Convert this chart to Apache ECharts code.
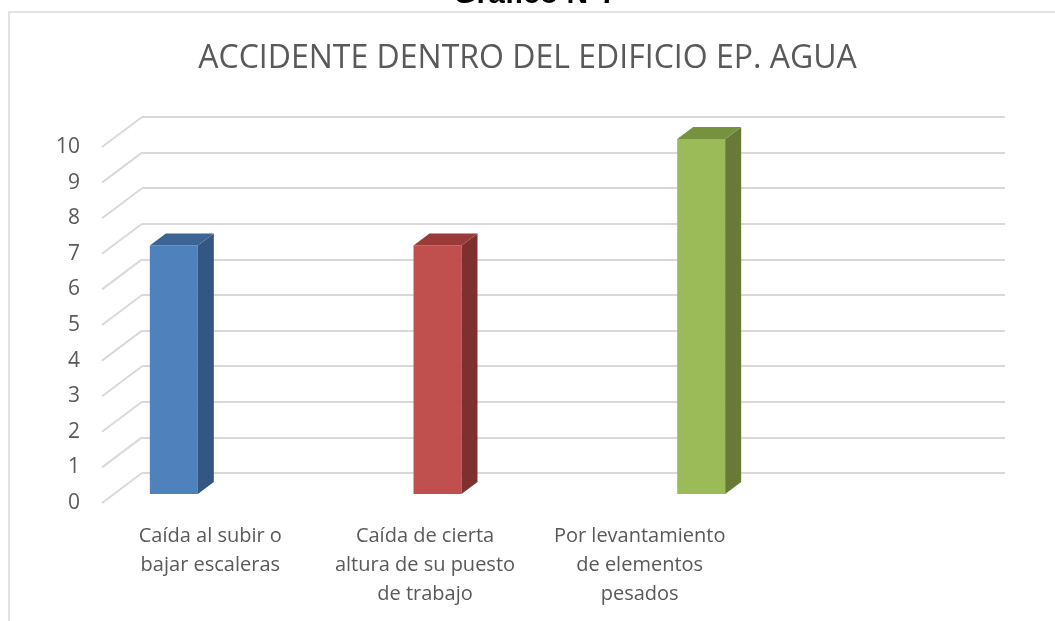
<!DOCTYPE html>
<html>
<head>
<meta charset="utf-8">
<title>Gráfico N°7</title>
<script src="https://cdn.jsdelivr.net/npm/echarts@6/dist/echarts.min.js"></script>
<style>
    html, body { margin: 0; padding: 0; background: #fff; }
    #main { width: 1055px; height: 621px; }
</style>
</head>
<body>
<div id="main"></div>
<script>
var categories = ['Caída al subir o\nbajar escaleras', 'Caída de cierta\naltura de su puesto\nde trabajo', 'Por levantamiento\nde elementos\npesados'];
var values = [7, 7, 10];
var yTicks = [0, 1, 2, 3, 4, 5, 6, 7, 8, 9, 10];

// front / side / top faces
var barColors = [
    ['#4f81bd', '#335782', '#3c6495'],
    ['#c0504d', '#7e302e', '#9a3b39'],
    ['#9bbb59', '#677a37', '#77923f']
];
var font = '"Open Sans", "Noto Sans", sans-serif';
var gridColor = '#d9d9d9';

var renderDiagonal = function (params, api) {
    var p = api.coord([0, api.value(1)]);
    return {
        type: 'line',
        shape: { x1: p[0], y1: p[1], x2: p[0] + 40, y2: p[1] - 30 },
        style: { stroke: gridColor, lineWidth: 2 }
    };
}

var renderBar = function (params, api) {
    var base = api.coord([api.value(0), 0]);
    var top = api.coord([api.value(0), api.value(1)]);
    var w = api.size([1, 0])[0] * 0.182;
    var x0 = base[0] - w / 2, x1 = base[0] + w / 2;
    var dx = 16, dy = -12;
    var c = barColors[params.dataIndex];
    return {
        type: 'group',
        children: [
            { type: 'rect', shape: { x: x0, y: top[1], width: w, height: base[1] - top[1] }, style: { fill: c[0] } },
            { type: 'polygon', shape: { points: [[x1, top[1]], [x1 + dx, top[1] + dy], [x1 + dx, base[1] + dy], [x1, base[1]]] }, style: { fill: c[1] } },
            { type: 'polygon', shape: { points: [[x0, top[1]], [x0 + dx, top[1] + dy], [x1 + dx, top[1] + dy], [x1, top[1]]] }, style: { fill: c[2] } }
        ]
    };
}

var chart = echarts.init(document.getElementById('main'));
chart.setOption({
    animation: false,
    title: {
        text: 'ACCIDENTE DENTRO DEL EDIFICIO EP. AGUA',
        left: 'center',
        top: 38,
        textStyle: { fontFamily: font, fontSize: 32, fontWeight: 'normal', color: '#595959' }
    },
    graphic: [
        { type: 'rect', shape: { x: 9, y: 12, width: 1100, height: 700 }, style: { fill: 'none', stroke: gridColor, lineWidth: 1.5 }, z: -1 },
        { type: 'text', x: 535, y: -5, style: { text: 'Gráfico N°7', font: 'bold 30px "Liberation Sans", Arial, sans-serif', fill: '#000', textAlign: 'center', textVerticalAlign: 'middle' } }
    ],
    grid: [
        // back wall
        { left: 142, right: 50, top: 117, bottom: 148 },
        // front edge with the tick labels
        { left: 102, right: 90, top: 147, bottom: 118 },
        // bar front plane
        { left: 42, right: 222, top: 139, bottom: 127 },
        // category labels
        { left: 103, right: 308, top: 100, bottom: 111 }
    ],
    xAxis: [
        { gridIndex: 0, type: 'value', min: 0, max: 1, show: false },
        { gridIndex: 1, type: 'value', min: 0, max: 1, show: false },
        { gridIndex: 2, type: 'category', data: categories, show: false },
        {
            gridIndex: 3, type: 'category', data: categories,
            axisLine: { show: false }, axisTick: { show: false },
            axisLabel: { margin: 12, fontFamily: font, fontSize: 20, lineHeight: 29, color: '#595959', interval: 0 }
        }
    ],
    yAxis: [
        {
            gridIndex: 0, type: 'value', min: 0, max: 10, interval: 1,
            axisLine: { show: false }, axisTick: { show: false }, axisLabel: { show: false },
            splitLine: { lineStyle: { color: gridColor, width: 2 } }
        },
        {
            gridIndex: 1, type: 'value', min: 0, max: 10, interval: 1,
            axisLine: { show: false }, axisTick: { show: false }, splitLine: { show: false },
            axisLabel: { margin: 22, padding: [6, 0, 0, 0], fontFamily: font, fontSize: 21, color: '#595959' }
        },
        { gridIndex: 2, type: 'value', min: 0, max: 10, show: false },
        { gridIndex: 3, type: 'value', show: false }
    ],
    series: [
        {
            type: 'custom', xAxisIndex: 1, yAxisIndex: 1,
            data: yTicks.map(function (t) { return [0, t]; }),
            renderItem: renderDiagonal
        },
        {
            type: 'custom', xAxisIndex: 2, yAxisIndex: 2, z: 5,
            data: values.map(function (v, i) { return [i, v]; }),
            renderItem: renderBar
        }
    ]
});
</script>
</body>
</html>
